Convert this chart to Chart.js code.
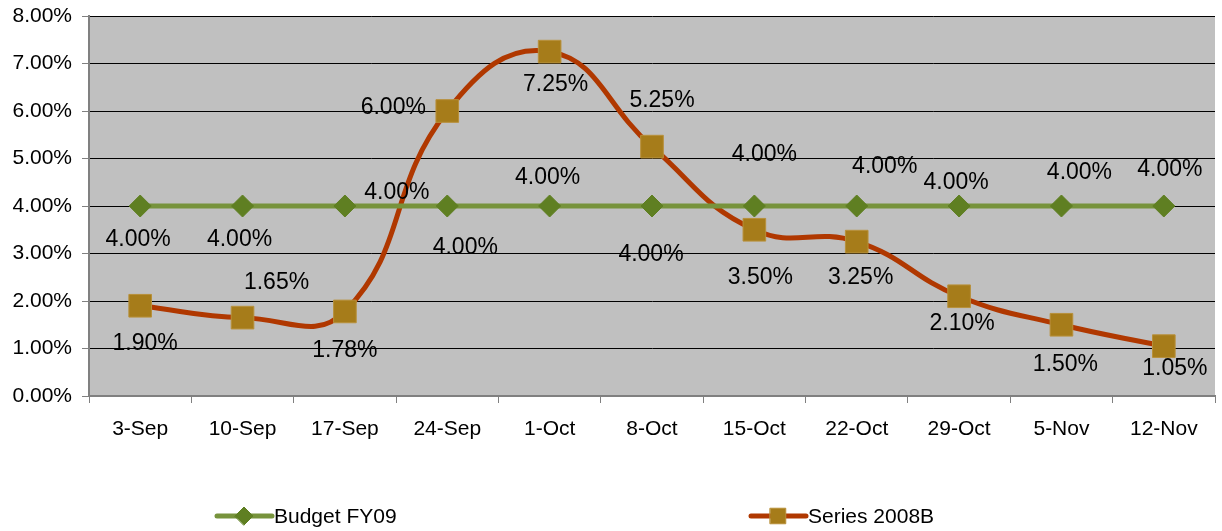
<!DOCTYPE html>
<html lang="en">
<head>
<meta charset="UTF-8">
<title>Budget FY09 vs Series 2008B</title>
<script src="https://cdn.jsdelivr.net/npm/chart.js"></script>
<style>
  body { margin: 0; background: #fff; }
  #wrap { width: 1222px; height: 531px; }
</style>
</head>
<body>
<div id="wrap"><canvas id="chart" width="1222" height="531"></canvas></div>
<script>
// data
const weeks = ['3-Sep', '10-Sep', '17-Sep', '24-Sep', '1-Oct', '8-Oct', '15-Oct', '22-Oct', '29-Oct', '5-Nov', '12-Nov'];
const budgetFY09 = [4.00, 4.00, 4.00, 4.00, 4.00, 4.00, 4.00, 4.00, 4.00, 4.00, 4.00];
const series2008B = [1.90, 1.65, 1.78, 6.00, 7.25, 5.25, 3.50, 3.25, 2.10, 1.50, 1.05];
const yTicks = [0, 1, 2, 3, 4, 5, 6, 7, 8];

// where each data label sits relative to its point (pixels) - the excel labels were dragged around
const budgetLabelPos = [[-2, 34], [-3, 34], [52, -13], [18, 42], [-2, -28], [-1, 49], [10, -51], [28, -39], [-3, -23], [18, -33], [6, -36]];
const seriesLabelPos = [[5, 38], [34, -35], [0, 39], [-54, -3], [6, 33], [10, -46], [6, 48], [4, 36], [3, 27], [4, 40], [11, 23]];

const GREEN = '#77933C';
const GREEN_DARK = '#5F7F22';
const RED = '#B03800';
const GOLD = '#A67C1A';
const FONT = 'Liberation Sans, Arial, sans-serif';

const plotBg = {
  id: 'plotBg',
  beforeDraw(chart) {
    const a = chart.chartArea, ctx = chart.ctx;
    ctx.save();
    ctx.fillStyle = '#C0C0C0';
    ctx.fillRect(a.left, a.top, a.right - a.left, a.bottom - a.top);
    ctx.restore();
  }
};

const dataLabels = {
  id: 'dataLabels',
  afterDatasetsDraw(chart) {
    const ctx = chart.ctx;
    const offsets = [budgetLabelPos, seriesLabelPos];
    ctx.save();
    ctx.font = '23px ' + FONT;
    ctx.fillStyle = '#000';
    ctx.textAlign = 'center';
    ctx.textBaseline = 'middle';
    chart.data.datasets.forEach((ds, di) => {
      chart.getDatasetMeta(di).data.forEach((pt, i) => {
        const o = offsets[di][i];
        ctx.fillText(ds.data[i].toFixed(2) + '%', pt.x + o[0], pt.y + o[1]);
      });
    });
    ctx.restore();
  }
};

const bottomLegend = {
  id: 'bottomLegend',
  afterDraw(chart) {
    const ctx = chart.ctx;
    const items = [
      { x: 217, ds: chart.data.datasets[0], r: 9 },
      { x: 751, ds: chart.data.datasets[1], r: 11 }
    ];
    const y = 516;
    ctx.save();
    items.forEach(it => {
      ctx.strokeStyle = it.ds.borderColor;
      ctx.lineWidth = 5;
      ctx.lineCap = 'round';
      ctx.beginPath();
      ctx.moveTo(it.x, y);
      ctx.lineTo(it.x + 55, y);
      ctx.stroke();
      ctx.fillStyle = it.ds.pointBackgroundColor;
      ctx.strokeStyle = it.ds.pointBorderColor;
      ctx.lineWidth = 1;
      Chart.helpers.drawPoint(ctx, { pointStyle: it.ds.pointStyle, radius: it.r, borderWidth: 1 }, it.x + 27, y);
      ctx.fillStyle = '#000';
      ctx.font = '21px ' + FONT;
      ctx.textAlign = 'left';
      ctx.textBaseline = 'middle';
      ctx.fillText(it.ds.label, it.x + 57, y + 1);
    });
    ctx.restore();
  }
};

new Chart(document.getElementById('chart'), {
  type: 'line',
  data: {
    labels: weeks,
    datasets: [
      {
        label: 'Budget FY09',
        data: budgetFY09,
        borderColor: GREEN,
        borderWidth: 5,
        pointStyle: 'rectRot',
        pointRadius: 11,
        pointBackgroundColor: GREEN_DARK,
        pointBorderColor: GREEN_DARK,
        pointBorderWidth: 1,
        tension: 0
      },
      {
        label: 'Series 2008B',
        data: series2008B,
        borderColor: RED,
        borderWidth: 5,
        pointStyle: 'rect',
        pointRadius: 16,
        pointBackgroundColor: GOLD,
        pointBorderColor: '#B8903A',
        pointBorderWidth: 1,
        tension: 0.45
      }
    ]
  },
  options: {
    responsive: false,
    animation: false,
    layout: { autoPadding: false, padding: { top: 16, right: 7, bottom: 85, left: 0 } },
    plugins: { legend: { display: false }, tooltip: { enabled: false } },
    scales: {
      x: {
        offset: true,
        grid: { offset: true, drawOnChartArea: false, drawTicks: true, tickLength: 7, color: '#808080', lineWidth: 1 },
        border: { color: '#808080', width: 2 },
        ticks: { color: '#000', font: { family: FONT, size: 21 }, padding: 14, maxRotation: 0, autoSkip: false },
        afterFit(scale) {
          scale.height = 50;
          scale.paddingLeft = 0;
          scale.paddingRight = 0;
        }
      },
      y: {
        min: yTicks[0],
        max: yTicks[yTicks.length - 1],
        afterBuildTicks(scale) { scale.ticks = yTicks.map(v => ({ value: v })); },
        grid: {
          color: ctx => (ctx.tick && ctx.tick.value === 0 ? '#808080' : '#000'),
          tickColor: '#808080',
          tickLength: 7,
          lineWidth: 1
        },
        border: { color: '#808080', width: 2 },
        ticks: {
          color: '#000',
          font: { family: FONT, size: 21 },
          padding: 10,
          callback: v => v.toFixed(2) + '%'
        },
        afterFit(scale) {
          scale.width = 89;
          scale.paddingTop = 0;
          scale.paddingBottom = 0;
        }
      }
    }
  },
  plugins: [plotBg, dataLabels, bottomLegend]
});
</script>
</body>
</html>
